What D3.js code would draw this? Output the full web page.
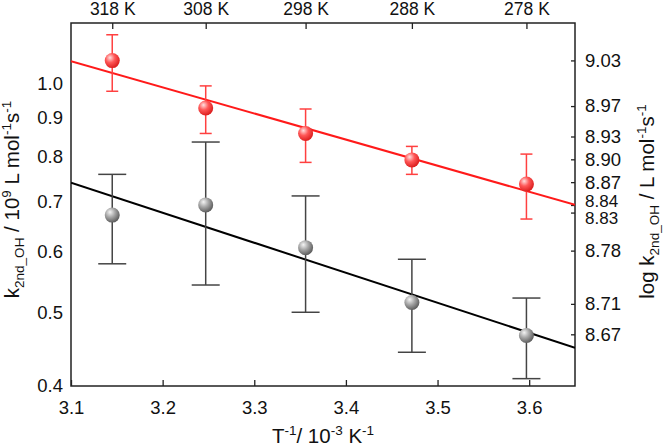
<!DOCTYPE html>
<html>
<head>
<meta charset="utf-8">
<script src="https://cdn.jsdelivr.net/npm/d3@7"></script>
<style>
  html, body { margin: 0; padding: 0; background: #fff; }
  svg { display: block; font-family: Arial, "Liberation Sans", sans-serif; }
</style>
</head>
<body>
<div id="chart"></div>
<script>
// temperatures (top axis) and their inverse, 10^-3 K^-1
const temps = [318, 308, 298, 288, 278];
const invT = [3.145, 3.247, 3.356, 3.472, 3.597];

// red series: k_2nd_OH (10^9 L mol-1 s-1) with error bar limits
const redK  = [1.071, 0.928, 0.859, 0.793, 0.737];
const redHi = [1.158, 0.992, 0.925, 0.826, 0.807];
const redLo = [0.976, 0.859, 0.787, 0.759, 0.663];

// grey series
const greyK  = [0.671, 0.692, 0.608, 0.515, 0.466];
const greyHi = [0.759, 0.837, 0.711, 0.587, 0.522];
const greyLo = [0.579, 0.543, 0.500, 0.443, 0.409];

// linear fits (end points)
const redFit  = [[3.10, 1.069], [3.65, 0.692]];
const greyFit = [[3.10, 0.740], [3.65, 0.449]];

// tick labels
const xTicks = [3.1, 3.2, 3.3, 3.4, 3.5, 3.6];
const yTicks = [0.4, 0.5, 0.6, 0.7, 0.8, 0.9, 1.0];
const logTicks = [9.03, 8.97, 8.93, 8.90, 8.87, 8.84, 8.83, 8.78, 8.71, 8.67];

const W = 666, H = 447;
const margin = { top: 23, right: 91, bottom: 61, left: 71 };
const width = W - margin.left - margin.right;
const height = H - margin.top - margin.bottom;

const svg = d3.select('#chart').append('svg')
  .attr('width', W)
  .attr('height', H);

const defs = svg.append('defs');
function sphere(id, c0, c1, c2) {
  const g = defs.append('radialGradient')
    .attr('id', id)
    .attr('cx', '38%').attr('cy', '35%').attr('r', '70%')
    .attr('fx', '35%').attr('fy', '30%');
  g.append('stop').attr('offset', '0%').attr('stop-color', c0);
  g.append('stop').attr('offset', '45%').attr('stop-color', c1);
  g.append('stop').attr('offset', '100%').attr('stop-color', c2);
}
sphere('ballRed', '#ffe0e0', '#ff5858', '#d81818');
sphere('ballGrey', '#f4f4f4', '#a8a8a8', '#555555');

const g = svg.append('g')
  .attr('transform', `translate(${margin.left},${margin.top})`);

const x = d3.scaleLinear().domain([3.1, 3.65]).range([0, width]);
const y = d3.scaleLog().domain([0.4, 1.2]).range([height, 0]);

const fontSize = 18.5;

// bottom axis
const xAxis = g.append('g')
  .attr('transform', `translate(0,${height})`)
  .call(d3.axisBottom(x).tickValues(xTicks).tickFormat(d3.format('.1f'))
    .tickSizeInner(-6).tickSizeOuter(0).tickPadding(15));

// left axis
const yAxis = g.append('g')
  .call(d3.axisLeft(y).tickValues(yTicks).tickFormat(d3.format('.1f'))
    .tickSize(0).tickPadding(8));

// top axis: temperatures
const tAxis = g.append('g')
  .call(d3.axisTop(x).tickValues(invT).tickFormat((d, i) => temps[i] + ' K')
    .tickSizeInner(-6).tickSizeOuter(0).tickPadding(8));

// right axis: log k
const yLog = d3.scaleLinear()
  .domain([9 + Math.log10(0.4), 9 + Math.log10(1.2)])
  .range([height, 0]);
const rAxis = g.append('g')
  .attr('transform', `translate(${width},0)`)
  .call(d3.axisRight(yLog).tickValues(logTicks).tickFormat(d3.format('.2f'))
    .tickSizeInner(-4).tickSizeOuter(0).tickPadding(10));

[xAxis, yAxis, tAxis, rAxis].forEach(a => {
  a.select('.domain').remove();
  a.selectAll('line').attr('stroke', '#222').attr('stroke-width', 1.3);
  a.selectAll('text')
    .attr('font-size', fontSize)
    .attr('font-family', 'Arial, "Liberation Sans", sans-serif')
    .attr('fill', '#111');
});
tAxis.selectAll('text').attr('font-size', 17.5);

// the two close labels are pushed apart a little, as in the original
rAxis.selectAll('.tick text')
  .filter(d => d === 8.84 || d === 8.83)
  .attr('font-size', 17)
  .attr('y', d => d === 8.84 ? -4 : 5);

// plot frame
g.append('rect')
  .attr('width', width)
  .attr('height', height)
  .attr('fill', 'none')
  .attr('stroke', '#222')
  .attr('stroke-width', 1.5);

// clip for fit lines
defs.append('clipPath').attr('id', 'plotClip')
  .append('rect').attr('width', width).attr('height', height);

const line = d3.line().x(d => x(d[0])).y(d => y(d[1]));

function series(k, hi, lo, fit, color, barColor, capW, ball) {
  const grp = g.append('g');
  grp.append('path')
    .datum(fit)
    .attr('clip-path', 'url(#plotClip)')
    .attr('d', line)
    .attr('fill', 'none')
    .attr('stroke', color)
    .attr('stroke-width', 2);

  const bars = grp.selectAll('.bar').data(k).enter().append('g');
  bars.append('line')
    .attr('x1', (d, i) => x(invT[i])).attr('x2', (d, i) => x(invT[i]))
    .attr('y1', (d, i) => y(hi[i])).attr('y2', (d, i) => y(lo[i]));
  bars.append('line')
    .attr('x1', (d, i) => x(invT[i]) - capW).attr('x2', (d, i) => x(invT[i]) + capW)
    .attr('y1', (d, i) => y(hi[i])).attr('y2', (d, i) => y(hi[i]));
  bars.append('line')
    .attr('x1', (d, i) => x(invT[i]) - capW).attr('x2', (d, i) => x(invT[i]) + capW)
    .attr('y1', (d, i) => y(lo[i])).attr('y2', (d, i) => y(lo[i]));
  bars.selectAll('line')
    .attr('stroke', barColor)
    .attr('stroke-width', 1.5);

  grp.selectAll('.ball').data(k).enter().append('circle')
    .attr('cx', (d, i) => x(invT[i]))
    .attr('cy', d => y(d))
    .attr('r', 7.5)
    .attr('fill', `url(#${ball})`);
}

series(greyK, greyHi, greyLo, greyFit, '#000', '#444', 14, 'ballGrey');
series(redK, redHi, redLo, redFit, '#ff1a1a', '#ff4040', 6, 'ballRed');

// axis titles
const titleSize = 20.5;
const supSize = titleSize * 0.66;
const xt = svg.append('text')
  .attr('x', margin.left + width / 2)
  .attr('y', 443)
  .attr('text-anchor', 'middle')
  .attr('font-size', titleSize)
  .attr('fill', '#111');
xt.append('tspan').text('T');
xt.append('tspan').attr('dy', -8).attr('font-size', supSize).text('-1');
xt.append('tspan').attr('dy', 8).text('/ 10');
xt.append('tspan').attr('dy', -8).attr('font-size', supSize).text('-3');
xt.append('tspan').attr('dy', 8).text(' K');
xt.append('tspan').attr('dy', -8).attr('font-size', supSize).text('-1');

function kTitle(sel, prefix) {
  sel.append('tspan').text(prefix + 'k');
  sel.append('tspan').attr('dy', 5).attr('font-size', supSize).text('2nd_OH');
  sel.append('tspan').attr('dy', -5).text(' / ');
}

const lt = svg.append('text')
  .attr('transform', `translate(19,${margin.top + height / 2 - 5}) rotate(-90)`)
  .attr('text-anchor', 'middle')
  .attr('font-size', titleSize)
  .attr('fill', '#111');
kTitle(lt, '');
lt.append('tspan').text('10');
lt.append('tspan').attr('dy', -8).attr('font-size', supSize).text('9');
lt.append('tspan').attr('dy', 8).text(' L mol');
lt.append('tspan').attr('dy', -8).attr('font-size', supSize).text('-1');
lt.append('tspan').attr('dy', 8).text('s');
lt.append('tspan').attr('dy', -8).attr('font-size', supSize).text('-1');

const rt = svg.append('text')
  .attr('transform', `translate(654,${margin.top + height / 2 - 3}) rotate(-90)`)
  .attr('text-anchor', 'middle')
  .attr('font-size', titleSize)
  .attr('fill', '#111');
kTitle(rt, 'log ');
rt.append('tspan').text('L mol');
rt.append('tspan').attr('dy', -8).attr('font-size', supSize).text('-1');
rt.append('tspan').attr('dy', 8).text('s');
rt.append('tspan').attr('dy', -8).attr('font-size', supSize).text('-1');
</script>
</body>
</html>
